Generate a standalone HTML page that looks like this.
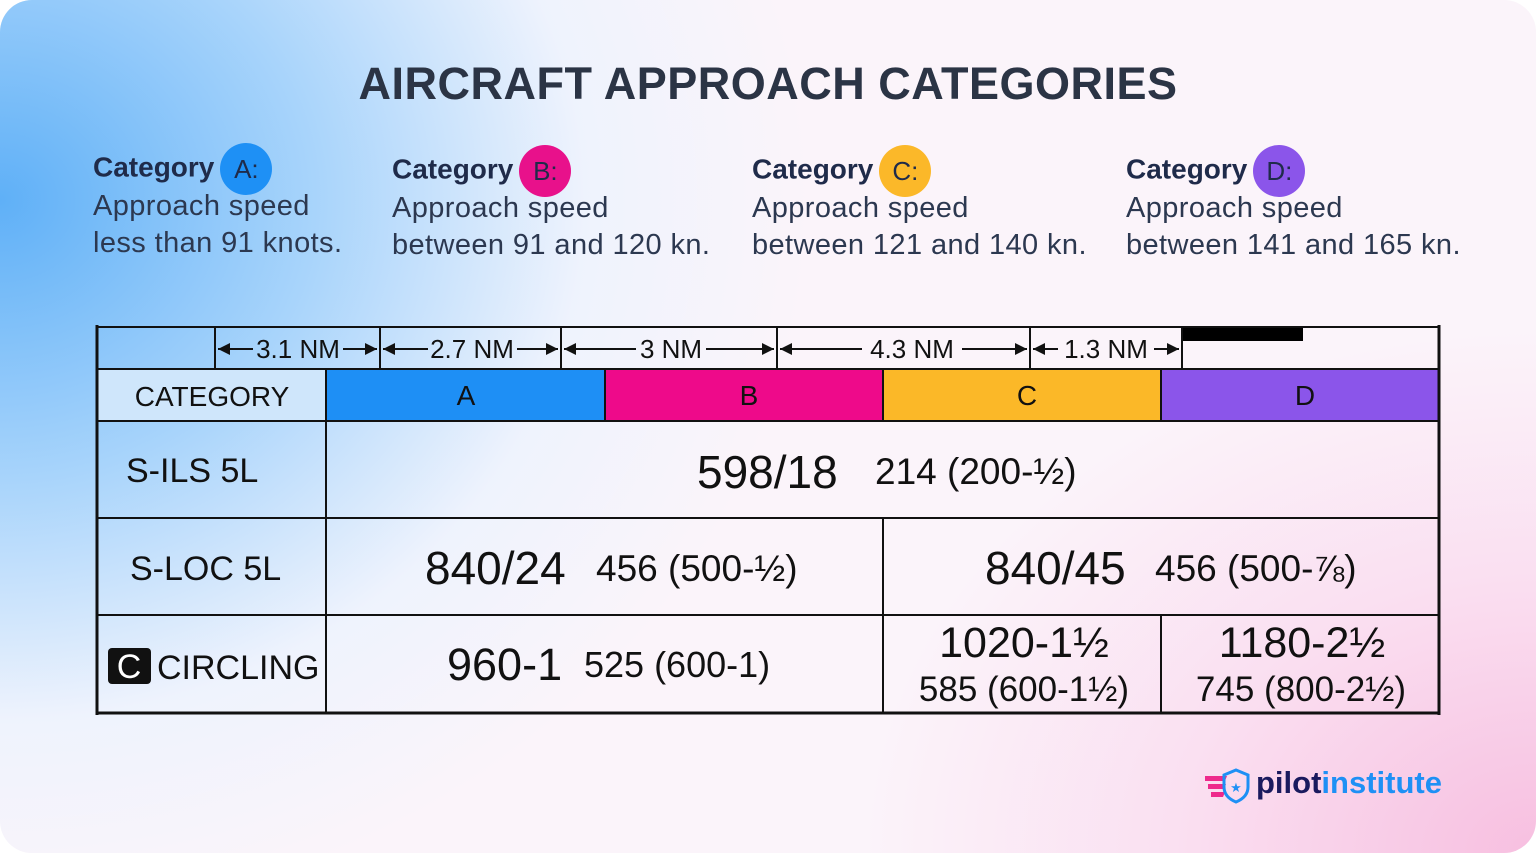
<!DOCTYPE html>
<html><head><meta charset="utf-8"><style>
html,body{margin:0;padding:0;background:#fff;}
#card{position:absolute;left:0;top:0;width:1536px;height:853px;border-radius:32px;overflow:hidden;
background:
radial-gradient(ellipse 900px 700px at 1536px 853px,#f7bfe0 0%,rgba(250,210,235,0.6) 40%,rgba(255,255,255,0) 75%),
radial-gradient(ellipse 900px 800px at 0px 200px,#5fb0f7 0%,#a8d4fb 35%,rgba(230,242,255,0.6) 65%,rgba(255,255,255,0) 90%),
#fbf4fa;font-family:"Liberation Sans",sans-serif;}
.t{position:absolute;white-space:nowrap;}
h1{position:absolute;left:0;width:1536px;top:58px;margin:0;text-align:center;font-size:45px;font-weight:bold;color:#2b3445;letter-spacing:0.5px;}
.cat{font-size:28px;font-weight:bold;color:#1f2b4a;}
.desc{font-size:29px;color:#2c3850;line-height:37px;letter-spacing:0.4px;margin-top:-7px;}
.badge{display:inline-block;width:52px;height:52px;border-radius:26px;text-align:center;line-height:52px;font-size:26px;color:#1f2b4a;font-weight:normal;vertical-align:middle;margin-left:6px;}
svg text{font-family:"Liberation Sans",sans-serif;}
</style></head><body>
<div id="card">
<h1>AIRCRAFT APPROACH CATEGORIES</h1>

<div class="t" style="left:93px;top:143px">
<div class="cat">Category<span class="badge" style="background:#1e90f5">A:</span></div>
<div class="desc">Approach speed<br>less than 91 knots.</div></div>
<div class="t" style="left:392px;top:145px">
<div class="cat">Category<span class="badge" style="background:#e8118b">B:</span></div>
<div class="desc">Approach speed<br>between 91 and 120 kn.</div></div>
<div class="t" style="left:752px;top:145px">
<div class="cat">Category<span class="badge" style="background:#fbb829">C:</span></div>
<div class="desc">Approach speed<br>between 121 and 140 kn.</div></div>
<div class="t" style="left:1126px;top:145px">
<div class="cat">Category<span class="badge" style="background:#8b55ea">D:</span></div>
<div class="desc">Approach speed<br>between 141 and 165 kn.</div></div>

<svg width="1536" height="853" style="position:absolute;left:0;top:0">
<defs><marker id="ar" viewBox="0 0 10 10" refX="10" refY="5" markerWidth="8" markerHeight="6" orient="auto-start-reverse"><path d="M0 0L10 5L0 10z" fill="#111"/></marker></defs>
<g>
<rect x="98" y="369" width="228" height="52" fill="#cfe6fb"/>
<rect x="326" y="369" width="279" height="52" fill="#1e8ff5"/>
<rect x="605" y="369" width="278" height="52" fill="#ee0a8a"/>
<rect x="883" y="369" width="278" height="52" fill="#fbb828"/>
<rect x="1161" y="369" width="277" height="52" fill="#8b55ea"/>
</g>
<rect x="1182" y="328" width="121" height="13" fill="#000"/>
<g stroke="#111" stroke-width="2" fill="none">
<line x1="97" y1="327" x2="1440" y2="327"/>
<line x1="97" y1="369" x2="1440" y2="369"/>
<line x1="97" y1="421" x2="1440" y2="421"/>
<line x1="97" y1="518" x2="1440" y2="518"/>
<line x1="97" y1="615" x2="1440" y2="615"/>
<line x1="97" y1="713" x2="1440" y2="713" stroke-width="3"/>
<line x1="97" y1="325" x2="97" y2="715" stroke-width="3"/>
<line x1="1439" y1="325" x2="1439" y2="715" stroke-width="3"/>
<line x1="215" y1="327" x2="215" y2="369"/><line x1="380" y1="327" x2="380" y2="369"/>
<line x1="561" y1="327" x2="561" y2="369"/><line x1="777" y1="327" x2="777" y2="369"/>
<line x1="1030" y1="327" x2="1030" y2="369"/><line x1="1182" y1="327" x2="1182" y2="369"/>
<line x1="326" y1="369" x2="326" y2="713"/>
<line x1="605" y1="369" x2="605" y2="421"/>
<line x1="883" y1="369" x2="883" y2="421"/><line x1="883" y1="518" x2="883" y2="713"/>
<line x1="1161" y1="369" x2="1161" y2="421"/><line x1="1161" y1="615" x2="1161" y2="713"/>
</g>
<g stroke="#111" stroke-width="2">
<line x1="253" y1="349" x2="218" y2="349" marker-end="url(#ar)"/><line x1="343" y1="349" x2="377" y2="349" marker-end="url(#ar)"/>
<line x1="428" y1="349" x2="383" y2="349" marker-end="url(#ar)"/><line x1="517" y1="349" x2="558" y2="349" marker-end="url(#ar)"/>
<line x1="636" y1="349" x2="564" y2="349" marker-end="url(#ar)"/><line x1="706" y1="349" x2="774" y2="349" marker-end="url(#ar)"/>
<line x1="862" y1="349" x2="780" y2="349" marker-end="url(#ar)"/><line x1="962" y1="349" x2="1027" y2="349" marker-end="url(#ar)"/>
<line x1="1058" y1="349" x2="1033" y2="349" marker-end="url(#ar)"/><line x1="1154" y1="349" x2="1179" y2="349" marker-end="url(#ar)"/>
</g>
<g font-size="26" fill="#111" text-anchor="middle">
<text x="298" y="358">3.1 NM</text>
<text x="472" y="358">2.7 NM</text>
<text x="671" y="358">3 NM</text>
<text x="912" y="358">4.3 NM</text>
<text x="1106" y="358">1.3 NM</text>
</g>
<g font-size="28" fill="#111" text-anchor="middle">
<text x="212" y="406">CATEGORY</text>
<text x="466" y="405">A</text><text x="749" y="405">B</text>
<text x="1027" y="405">C</text><text x="1305" y="405">D</text>
</g>
<g font-size="34" fill="#111">
<text x="126" y="482">S-ILS 5L</text>
<text x="130" y="580">S-LOC 5L</text>
<rect x="108" y="648" width="43" height="36" rx="4" fill="#111"/>
<text x="129" y="678" fill="#fff" text-anchor="middle">C</text>
<text x="157" y="679">CIRCLING</text>
</g>
<g fill="#111">
<text x="697" y="488" font-size="46">598/18</text><text x="875" y="484" font-size="37">214 (200-½)</text>
<text x="425" y="584" font-size="46">840/24</text><text x="596" y="581" font-size="37">456 (500-½)</text>
<text x="985" y="584" font-size="46">840/45</text><text x="1155" y="581" font-size="37">456 (500-⅞)</text>
<text x="447" y="680" font-size="45">960-1</text><text x="584" y="677" font-size="36">525 (600-1)</text>
<text x="1024" y="657" font-size="43" text-anchor="middle">1020-1½</text>
<text x="1024" y="701" font-size="35" text-anchor="middle">585 (600-1½)</text>
<text x="1302" y="657" font-size="43" text-anchor="middle">1180-2½</text>
<text x="1301" y="701" font-size="35" text-anchor="middle">745 (800-2½)</text>
</g>
<g>
<path d="M1205 776 h22 l-2 5 h-20z M1208 784 h18 l-2 5 h-16z M1211 792 h14 l-2 5 h-12z" fill="#ee2a8c"/>
<path d="M1236 770 l12 5 v12 q0 10 -12 15 q-12 -5 -12 -15 v-12z" fill="none" stroke="#1e90f5" stroke-width="3"/>
<text x="1236" y="792" font-size="13" fill="#1e90f5" text-anchor="middle">★</text>
<text x="1256" y="793" font-size="31" font-weight="bold" fill="#1a1a5e">pilot<tspan fill="#1e90f5">institute</tspan></text>
</g>
</svg>
</div>
</body></html>
